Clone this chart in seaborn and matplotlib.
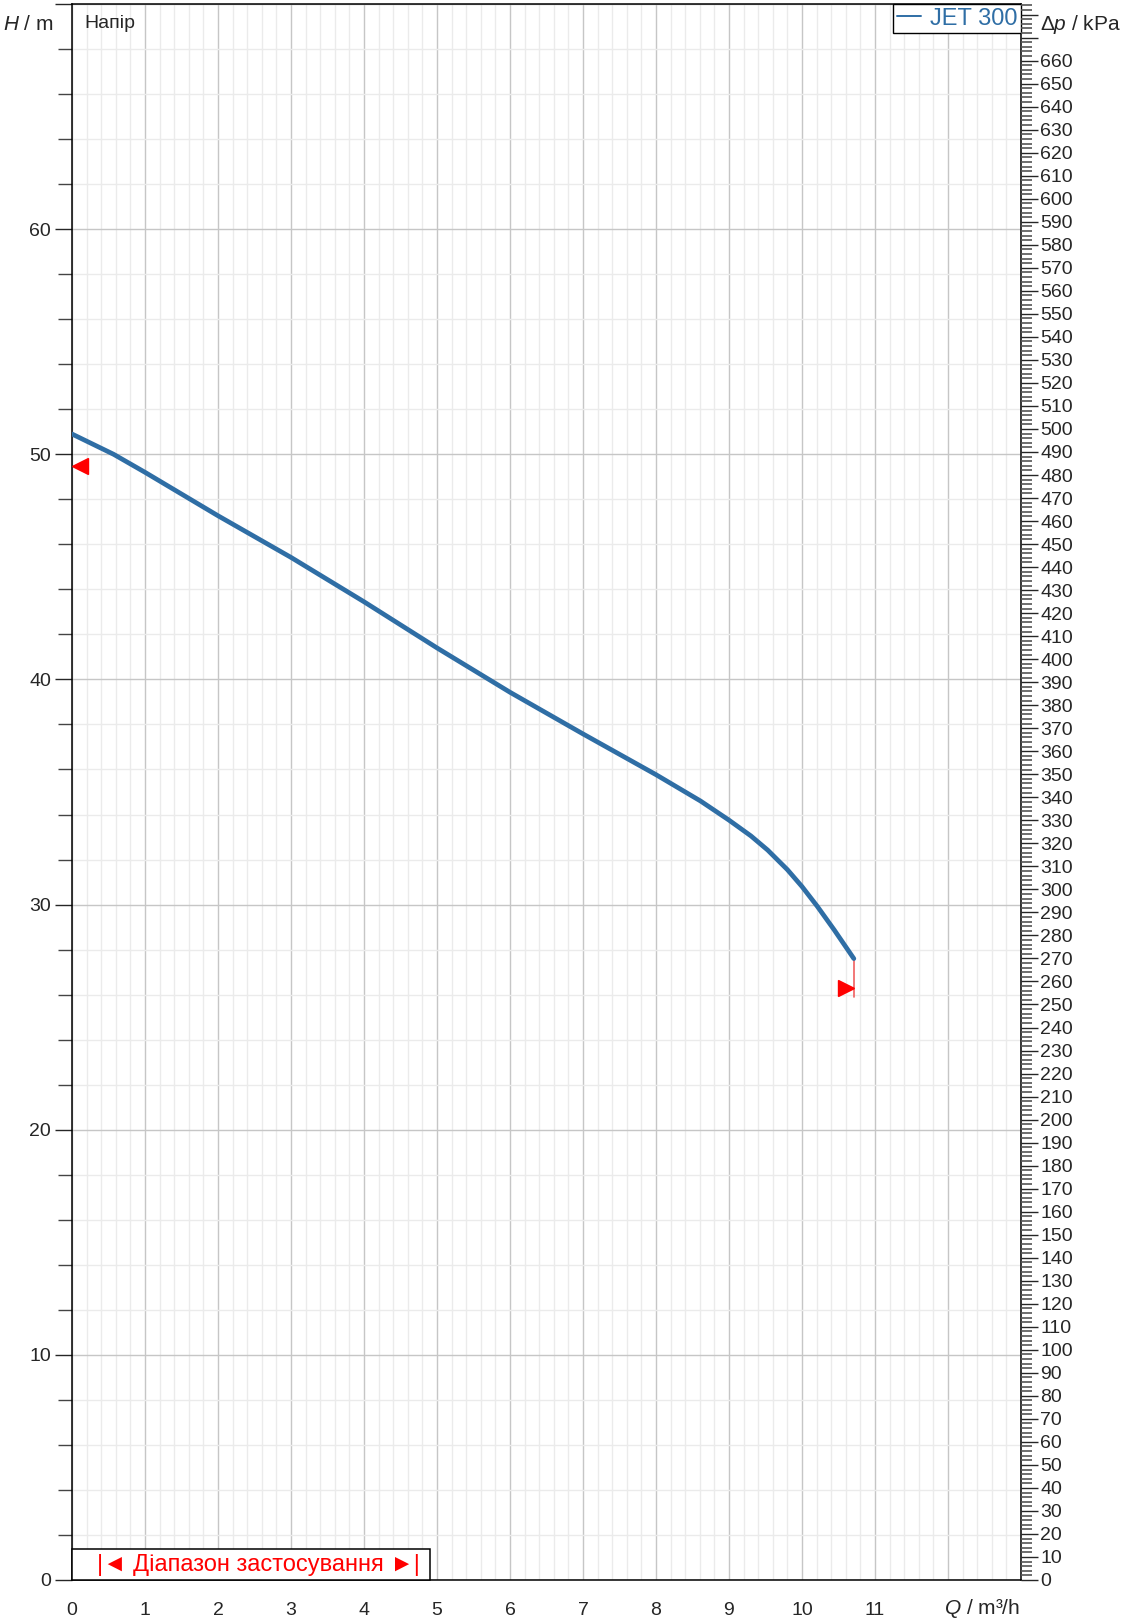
import seaborn as sns
import matplotlib.pyplot as plt
import matplotlib.ticker as mticker
from matplotlib.patches import Rectangle
import numpy as np
import pandas as pd

# pump curve JET 300 (Q in m3/h, H in m)
q_vals = [0.0, 0.57, 1.0, 2.0, 3.0, 4.0, 5.0, 6.0, 7.0, 8.0, 8.61, 9.0, 9.3, 9.53, 9.8, 10.0, 10.21, 10.44, 10.71]
h_vals = [50.9, 50.0, 49.2, 47.27, 45.42, 43.45, 41.4, 39.43, 37.58, 35.77, 34.6, 33.75, 33.05, 32.42, 31.55, 30.8, 29.92, 28.88, 27.6]
series_name = "JET 300"

# range markers
start_marker = (0.11, 49.5)
end_marker = (10.60, 26.3)
end_line_q = 10.71
end_line_h = [27.6, 25.9]

kpa_per_m = 9.78

sns.set_style("white")
plt.rcParams['font.family'] = ['Liberation Sans', 'DejaVu Sans']
plt.rcParams['mathtext.fontset'] = 'custom'
plt.rcParams['mathtext.it'] = 'Liberation Sans:italic'
plt.rcParams['mathtext.rm'] = 'Liberation Sans'

df = pd.DataFrame({"Q": q_vals, "H": h_vals})

fig = plt.figure(figsize=(11.21, 16.2), dpi=100)
ax = fig.add_axes([72/1121, 1 - 1580/1620, (1021-72)/1121, (1580-4)/1620])

blue = "#2f6ea5"
sns.lineplot(data=df, x="Q", y="H", ax=ax, color=blue, lw=3.4, label=series_name,
             solid_capstyle="round", solid_joinstyle="round", zorder=5)

ax.set_xlim(0, 13)
ax.set_ylim(0, 70)

ax.xaxis.set_major_locator(mticker.FixedLocator(range(0, 14)))
ax.xaxis.set_minor_locator(mticker.MultipleLocator(0.2))
ax.xaxis.set_major_formatter(mticker.FuncFormatter(lambda v, p: f"{int(v)}" if v <= 11 else ""))
ax.yaxis.set_major_locator(mticker.MultipleLocator(10))
ax.yaxis.set_minor_locator(mticker.MultipleLocator(2))
ax.yaxis.set_major_formatter(mticker.FuncFormatter(lambda v, p: f"{int(v)}" if v <= 60 else ""))

ax.grid(which="major", color="#c6c6c6", lw=1.0)
ax.grid(which="minor", color="#ebebeb", lw=1.0)
ax.set_axisbelow(True)

ax.tick_params(axis="x", which="major", length=12, width=1, labelsize=14, pad=4, direction="out")
ax.tick_params(axis="x", which="minor", length=8, width=1, direction="out")
ax.tick_params(axis="y", which="major", length=12, width=1, labelsize=14, pad=3, direction="out")
ax.tick_params(axis="y", which="minor", length=10, width=1, color="#444444", direction="out")
for s in ax.spines.values():
    s.set_color("black")
    s.set_linewidth(1.1)

ax.set_xlabel("")
ax.set_ylabel("")

# right axis in kPa
ax2 = ax.twinx()
ax2.set_ylim(0, 70 * kpa_per_m)
ax2.yaxis.set_major_locator(mticker.MultipleLocator(10))
ax2.yaxis.set_minor_locator(mticker.MultipleLocator(2))
ax2.yaxis.set_major_formatter(mticker.FuncFormatter(lambda v, p: f"{int(round(v))}" if v <= 660 else ""))
ax2.tick_params(axis="y", which="major", length=12, width=1, labelsize=14, pad=2)
ax2.tick_params(axis="y", which="minor", length=8, width=1.2, color="#555555")
for s in ax2.spines.values():
    s.set_visible(False)

# range markers
ax.plot([start_marker[0]], [start_marker[1]], marker="<", color="red", ms=12, ls="none", zorder=6)
ax.plot([end_marker[0]], [end_marker[1]], marker=">", color="red", ms=12, ls="none", zorder=6)
ax.plot([end_line_q, end_line_q], end_line_h, color="#f06060", lw=1.2, zorder=4)

# application range box
ax.add_patch(Rectangle((0, 0), 4.9 / 13, 1.38 / 70, transform=ax.transAxes,
                       facecolor="white", edgecolor="black", lw=1.1, zorder=7, clip_on=False))
ax.text(0.34 / 13, 0.66 / 70, "|◄ Діапазон застосування ►|", transform=ax.transAxes,
        color="red", fontsize=17, ha="left", va="center", zorder=8)

ax.text(12 / 949, 1 - 11 / 1576, "Напір", transform=ax.transAxes, fontsize=14,
        ha="left", va="top")

leg = ax.legend(loc="upper right", fontsize=17, frameon=True, fancybox=False,
                handlelength=1.0, handletextpad=0.4, borderpad=0.15,
                borderaxespad=0.0)
leg.get_frame().set_edgecolor("black")
leg.get_frame().set_linewidth(1.0)
leg.get_frame().set_alpha(1)
for t in leg.get_texts():
    t.set_color(blue)
for l in leg.get_lines():
    l.set_linewidth(1.4)

fig.text(3 / 1121, 1 - 25 / 1620, "$H$ / m", fontsize=15, ha="left", va="center")
fig.text(1040 / 1121, 1 - 25 / 1620, "Δ$p$ / kPa", fontsize=15, ha="left", va="center")
fig.text(1020 / 1121, 1 - 1614 / 1620, "$Q$ / m³/h", fontsize=15, ha="right", va="baseline")

fig.savefig("out.png", dpi=100)
